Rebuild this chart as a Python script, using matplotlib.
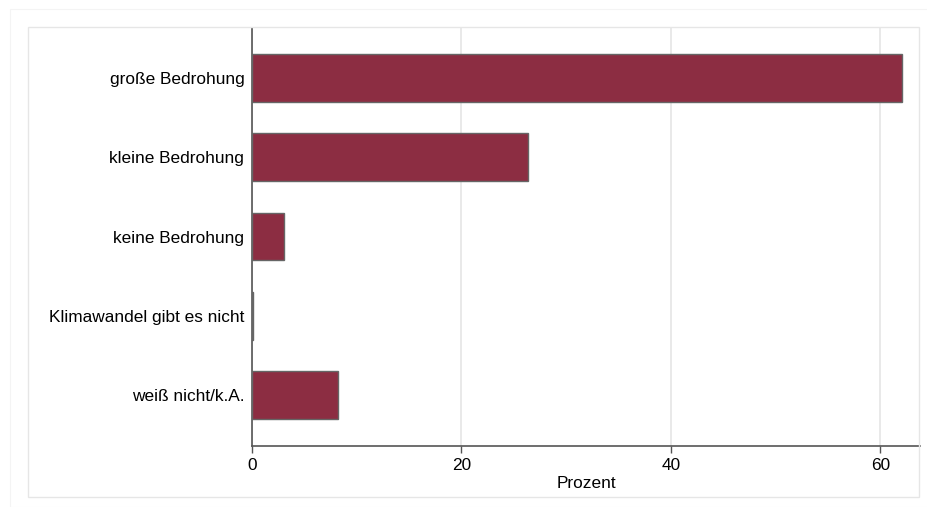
import matplotlib
matplotlib.use("Agg")
import matplotlib.pyplot as plt
from matplotlib.patches import Rectangle

# Antworten und Anteile in Prozent
categories = ["große Bedrohung", "kleine Bedrohung", "keine Bedrohung",
              "Klimawandel gibt es nicht", "weiß nicht/k.A."]
values = [62.1, 26.4, 3.05, 0.1, 8.2]
xticks = [0, 20, 40, 60]

plt.rcParams["font.family"] = ["Liberation Sans", "DejaVu Sans"]
FS = 12.4

fig = plt.figure(figsize=(9.27, 5.07), dpi=100)
W, H = 927, 507

# faint outer frame and plot region frame (Stata style)
fig.patches.append(Rectangle((10 / W, 0), 1, 1 - 9 / H, transform=fig.transFigure,
                             fill=False, edgecolor="#f4f4f4", linewidth=0.8))
fig.patches.append(Rectangle((28 / W, 1 - 497 / H), (919 - 28) / W, (497 - 27) / H,
                             transform=fig.transFigure, fill=False,
                             edgecolor="#e6e6e6", linewidth=1.0))

ax = fig.add_axes([252 / W, 1 - 446 / H, (920 - 252) / W, (446 - 28) / H])

pos = list(range(len(categories)))
ax.barh(pos, values, height=0.6, color="#8c2d42", edgecolor="#666666", linewidth=1.0,
        zorder=3)

ax.set_ylim(len(categories) - 1 + 0.64, -0.63)
ax.set_xlim(0, 63.8)
ax.set_yticks(pos)
ax.set_yticklabels(categories, fontsize=FS)
ax.set_xticks(xticks)
ax.set_xticklabels([str(t) for t in xticks], fontsize=FS)
ax.tick_params(axis="y", length=0, pad=5.5)
ax.tick_params(axis="x", length=5, width=1, color="#555555", pad=4)

ax.grid(axis="x", color="#e5e5e5", linewidth=1.2, zorder=0)
ax.set_axisbelow(True)

for s in ["top", "right"]:
    ax.spines[s].set_visible(False)
for s in ["left", "bottom"]:
    ax.spines[s].set_color("#555555")
    ax.spines[s].set_linewidth(1.2)

ax.set_xlabel("Prozent", fontsize=FS, labelpad=2)

fig.savefig("out.png", dpi=100)
